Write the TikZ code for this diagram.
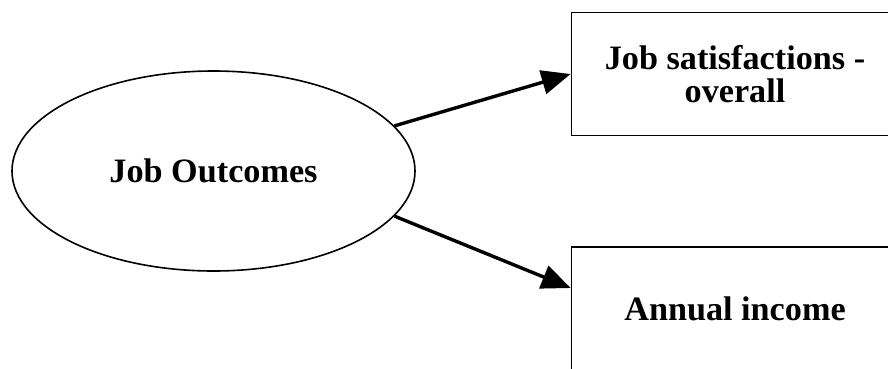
\documentclass[tikz,border=0pt]{standalone}
\usepackage{fontspec}
\setmainfont{Liberation Serif}
\usetikzlibrary{shapes.geometric,arrows.meta}
\begin{document}
\begin{tikzpicture}[x=1pt,y=-1pt,
  lbl/.style={font=\fontsize{34.2}{33.5}\selectfont\bfseries, align=center},
  outbox/.style={draw, line width=1.8pt, minimum width=327pt, minimum height=123pt, inner sep=0pt, lbl},
  construct/.style={draw, ellipse, line width=1.6pt, minimum width=403pt, minimum height=200pt, inner sep=0pt, lbl},
  link/.style={line width=3.4pt, -{Triangle[length=29pt,width=24pt]}}
]
\useasboundingbox (0,0) rectangle (888,368);
\clip (0,0) rectangle (888,368);
\fill[white] (0,0) rectangle (888,368);
\node[construct] (ell) at (213.5,171) {Job Outcomes};
\node[outbox] (box1) at (735,74) {Job satisfactions -\\overall};
\node[outbox] (box2) at (735,308.5) {Annual income};
\draw[link] (ell.14) -- (box1.west);
\draw[link] (ell.-14) -- ([yshift=20.5pt]box2.west);
\end{tikzpicture}
\end{document}
